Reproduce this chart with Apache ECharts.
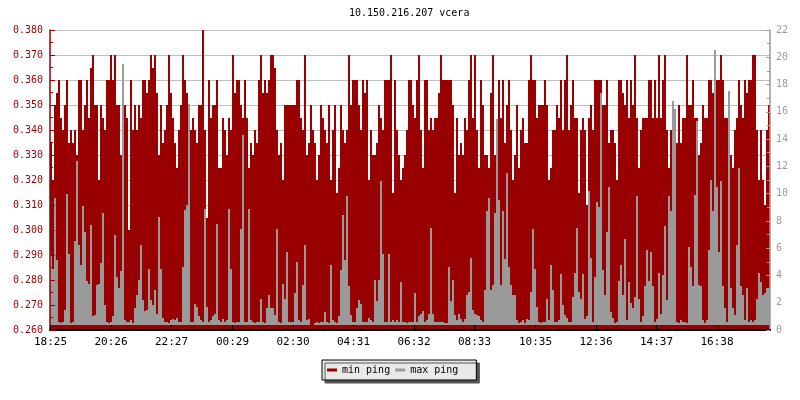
<!DOCTYPE html>
<html><head><meta charset="utf-8">
<script src="https://cdn.jsdelivr.net/npm/echarts@6/dist/echarts.min.js"></script>
<style>html,body{margin:0;padding:0;background:#fff}#c{width:800px;height:400px}</style>
</head><body><div id="c"></div>
<script>
const chartTitle = '10.150.216.207 vcera';
const seriesNames = ['min ping', 'max ping'];
const startTime = '18:24';
const stepMinutes = 4;
const tickLabels = ['18:25','20:26','22:27','00:29','02:30','04:31','06:32','08:33','10:35','12:36','14:37','16:38'];

// left axis (red area)
const minPing = [
0.335,0.320,0.350,0.355,0.360,0.345,0.340,0.350,0.360,0.335,
0.340,0.335,0.340,0.330,0.360,0.360,0.340,0.350,0.360,0.345,
0.365,0.370,0.350,0.350,0.320,0.350,0.345,0.340,0.360,0.360,
0.370,0.360,0.370,0.350,0.350,0.330,0.350,0.350,0.345,0.300,
0.360,0.340,0.350,0.340,0.350,0.345,0.360,0.360,0.355,0.360,
0.370,0.365,0.370,0.355,0.330,0.350,0.335,0.340,0.350,0.370,
0.355,0.345,0.335,0.325,0.340,0.350,0.370,0.360,0.355,0.345,
0.340,0.345,0.340,0.335,0.350,0.350,0.380,0.340,0.305,0.360,
0.345,0.350,0.350,0.360,0.325,0.325,0.345,0.340,0.330,0.345,
0.340,0.370,0.355,0.360,0.360,0.350,0.345,0.360,0.345,0.325,
0.335,0.330,0.340,0.335,0.360,0.370,0.355,0.360,0.355,0.360,
0.370,0.370,0.365,0.340,0.330,0.335,0.320,0.350,0.350,0.350,
0.350,0.350,0.350,0.360,0.360,0.345,0.340,0.370,0.330,0.335,
0.350,0.340,0.335,0.320,0.330,0.350,0.345,0.340,0.335,0.350,
0.320,0.340,0.350,0.315,0.325,0.350,0.340,0.335,0.340,0.370,
0.350,0.360,0.360,0.360,0.350,0.340,0.360,0.355,0.360,0.320,
0.340,0.330,0.330,0.335,0.350,0.345,0.340,0.360,0.360,0.360,
0.370,0.315,0.360,0.340,0.330,0.320,0.325,0.330,0.340,0.360,
0.360,0.350,0.345,0.360,0.370,0.340,0.325,0.360,0.360,0.340,
0.345,0.340,0.345,0.345,0.355,0.370,0.360,0.360,0.360,0.360,
0.360,0.350,0.315,0.345,0.330,0.335,0.330,0.345,0.340,0.360,
0.370,0.345,0.370,0.340,0.325,0.360,0.350,0.330,0.330,0.325,
0.355,0.370,0.330,0.320,0.360,0.345,0.360,0.335,0.350,0.360,
0.340,0.320,0.330,0.350,0.325,0.340,0.345,0.335,0.335,0.360,
0.370,0.360,0.360,0.345,0.350,0.350,0.350,0.360,0.350,0.320,
0.325,0.340,0.340,0.350,0.345,0.360,0.340,0.360,0.370,0.340,
0.350,0.360,0.345,0.345,0.315,0.340,0.345,0.340,0.310,0.345,
0.350,0.340,0.360,0.360,0.360,0.360,0.350,0.350,0.360,0.335,
0.340,0.340,0.335,0.320,0.360,0.360,0.355,0.350,0.360,0.345,
0.360,0.350,0.370,0.345,0.325,0.340,0.345,0.345,0.345,0.360,
0.360,0.345,0.360,0.345,0.370,0.345,0.360,0.370,0.340,0.325,
0.340,0.320,0.340,0.335,0.350,0.335,0.345,0.345,0.370,0.350,
0.350,0.360,0.345,0.345,0.330,0.335,0.350,0.345,0.345,0.360,
0.360,0.355,0.360,0.360,0.360,0.370,0.360,0.345,0.345,0.340,
0.330,0.325,0.340,0.345,0.360,0.350,0.345,0.360,0.355,0.360,
0.360,0.370,0.370,0.340,0.320,0.340,0.320,0.310,0.340,0.350
];

// right axis (grey area)
const maxPing = [
5.4,4.5,9.7,5.1,0.6,0.5,0.6,1.5,10.0,5.6,
0.5,0.6,6.5,12.4,6.2,4.8,9.1,7.2,3.6,3.4,
7.7,1.0,1.1,3.3,3.4,4.9,8.6,1.8,0.6,0.5,
0.6,1.0,7.0,3.9,3.1,4.3,19.5,0.7,0.6,0.6,
0.7,0.5,1.6,2.6,3.7,6.2,2.2,1.4,1.5,4.5,
2.2,1.8,2.9,1.2,8.3,4.5,0.9,0.6,0.6,0.5,
0.7,0.8,0.7,0.9,0.6,0.6,4.6,8.8,9.2,16.6,
0.6,0.6,1.9,1.7,1.0,0.7,0.6,8.9,1.7,0.6,
0.7,1.0,1.2,7.8,0.7,0.6,0.8,0.6,0.7,8.9,
4.5,0.6,0.5,0.6,0.6,7.4,14.3,0.6,0.6,8.9,
0.7,0.6,0.5,0.6,0.6,2.3,0.6,0.5,1.6,2.6,
1.6,1.6,1.1,7.4,0.6,0.5,3.4,2.3,5.7,0.6,
0.6,0.6,2.7,5.0,0.7,0.6,3.3,6.2,0.7,0.8,
0.4,0.4,0.5,0.6,0.5,0.6,0.6,1.3,0.6,0.5,
4.8,0.7,0.6,0.5,1.0,4.4,8.4,5.1,9.8,3.2,
1.1,0.6,0.6,1.6,2.2,1.9,0.6,0.6,0.6,0.9,
0.7,0.6,3.7,2.1,3.7,10.9,5.6,0.6,0.6,5.6,
0.6,0.7,0.6,0.7,0.6,3.5,0.6,0.6,0.5,0.6,
0.6,0.6,2.7,0.6,1.0,1.2,1.4,0.6,0.7,1.2,
7.5,1.2,0.6,0.6,0.6,0.6,0.6,0.5,0.5,4.6,
2.1,3.7,1.1,0.7,1.2,0.8,0.6,0.8,2.6,2.8,
5.3,1.5,1.2,1.1,1.0,0.7,0.6,2.9,8.7,9.7,
2.9,3.3,8.6,15.5,9.5,3.3,8.7,5.2,11.5,4.6,
3.3,2.6,2.6,0.7,0.5,0.6,0.7,0.5,0.8,0.7,
2.8,7.4,4.5,1.7,0.6,0.5,0.6,0.6,2.3,0.7,
4.8,2.9,0.6,0.6,0.7,4.1,1.8,1.1,0.9,0.6,
0.6,2.4,4.2,7.5,2.8,2.3,4.1,0.8,1.0,10.2,
5.3,0.6,3.9,9.4,9.0,17.4,4.4,2.6,7.2,10.5,
1.3,0.9,0.5,0.6,3.6,4.8,2.6,6.7,0.7,3.5,
2.0,1.6,2.4,9.8,2.3,0.6,1.0,3.2,5.9,3.6,
5.7,3.2,0.6,0.8,4.2,1.2,4.0,7.6,2.2,9.8,
8.7,16.8,16.2,0.6,0.5,0.7,0.6,0.6,0.5,6.1,
4.6,3.2,9.9,15.3,3.3,3.2,0.7,0.5,0.7,5.9,
11.0,8.7,20.5,10.5,5.7,10.9,3.2,1.6,0.6,17.5,
3.1,1.6,1.1,6.2,11.9,3.2,2.6,0.7,3.1,0.6,
0.7,0.6,0.7,2.3,4.2,3.5,2.6,2.7,3.1,3.1
];
const maxPingBase = 0.4; // grey band starts slightly above zero

const MONO = "'DejaVu Sans Mono', 'Liberation Mono', monospace";
const RED = '#990000';
const GREY = '#9a9a9a';

function toMin(s) { const p = s.split(':').map(Number); return p[0] * 60 + p[1]; }
const start = toMin(startTime);
const tickValues = tickLabels.map(l => (toMin(l) - start + 1440) % 1440);
const labelByValue = {};
tickValues.forEach((v, i) => { labelByValue[v] = tickLabels[i]; });
const totalMinutes = minPing.length * stepMinutes;
// [interval start, interval end, value]
const minData = minPing.map((v, i) => [i * stepMinutes, (i + 1) * stepMinutes, v]);
const maxData = maxPing.map((v, i) => [i * stepMinutes, (i + 1) * stepMinutes, v]);

function columnRenderer(base) {
  return function (params, api) {
    const top = api.coord([api.value(0), api.value(2)]);
    const bottomRight = api.coord([api.value(1), base === null ? 0.26 : base]);
    const x0 = Math.round(top[0]);
    const x1 = Math.round(bottomRight[0]);
    const y0 = Math.round(top[1]);
    const y1 = Math.round(bottomRight[1]);
    return {
      type: 'rect',
      shape: { x: x0, y: y0, width: x1 - x0, height: y1 - y0 },
      style: { fill: api.visual('color') }
    };
  };
}

const chart = echarts.init(document.getElementById('c'), null, { renderer: 'canvas' });
chart.setOption({
  animation: false,
  backgroundColor: '#fff',
  title: {
    text: chartTitle, left: 349, top: 8, padding: 0,
    textStyle: { fontSize: 10, fontWeight: 'normal', color: '#000', fontFamily: MONO }
  },
  grid: { left: 50, right: 30, top: 30, bottom: 70, containLabel: false },
  legend: {
    data: seriesNames,
    left: 322, top: 360, orient: 'horizontal',
    padding: [5, 18, 5, 5], itemGap: 5, itemWidth: 10, itemHeight: 3,
    icon: 'rect',
    backgroundColor: '#e9e9e9', borderColor: '#000', borderWidth: 1,
    shadowColor: '#555', shadowOffsetX: 3, shadowOffsetY: 3, shadowBlur: 0,
    textStyle: { color: '#000', fontSize: 10, fontFamily: MONO }
  },
  xAxis: {
    type: 'value', min: 0, max: totalMinutes, z: 10,
    axisLine: { show: true, lineStyle: { color: '#000', width: 2 } },
    axisTick: { show: true, inside: true, length: 5, customValues: tickValues, lineStyle: { color: '#000', width: 1 } },
    axisLabel: {
      show: true, customValues: tickValues, margin: 7,
      color: '#000', fontSize: 11, fontFamily: MONO,
      formatter: v => labelByValue[v] !== undefined ? labelByValue[v] : ''
    },
    splitLine: { show: false }
  },
  yAxis: [
    { // grid lines only
      type: 'value', position: 'left', min: 0.26, max: 0.38, interval: 0.01, z: 0,
      axisLine: { show: false }, axisTick: { show: false }, axisLabel: { show: false },
      splitLine: { show: true, lineStyle: { color: '#bebebe', width: 1 } }
    },
    { // right scale for max ping
      type: 'value', position: 'right', min: 0, max: 22, interval: 2, z: 10,
      axisLine: { show: true, lineStyle: { color: GREY, width: 1.5 } },
      axisTick: { show: true, inside: true, length: 4, lineStyle: { color: GREY } },
      minorTick: { show: true, splitNumber: 2, length: 3, lineStyle: { color: GREY } },
      axisLabel: { color: GREY, fontSize: 10, fontFamily: MONO, margin: 6 },
      splitLine: { show: false }
    },
    { // left scale drawn above the data
      type: 'value', position: 'left', min: 0.26, max: 0.38, interval: 0.01, z: 10,
      axisLine: { show: true, lineStyle: { color: RED, width: 1.5 } },
      axisTick: { show: true, inside: true, length: 5, lineStyle: { color: RED } },
      minorTick: { show: true, splitNumber: 2, length: 3, lineStyle: { color: RED } },
      axisLabel: { color: RED, fontSize: 10, fontFamily: MONO, margin: 7, formatter: v => v.toFixed(3) },
      splitLine: { show: false }
    }
  ],
  series: [
    {
      name: seriesNames[0], type: 'custom', yAxisIndex: 0, data: minData,
      encode: { x: [0, 1], y: 2 }, itemStyle: { color: RED }, z: 2, clip: true,
      renderItem: columnRenderer(null)
    },
    {
      name: seriesNames[1], type: 'custom', yAxisIndex: 1, data: maxData,
      encode: { x: [0, 1], y: 2 }, itemStyle: { color: GREY }, z: 3, clip: true,
      renderItem: columnRenderer(maxPingBase)
    }
  ]
});
</script>
</body></html>
